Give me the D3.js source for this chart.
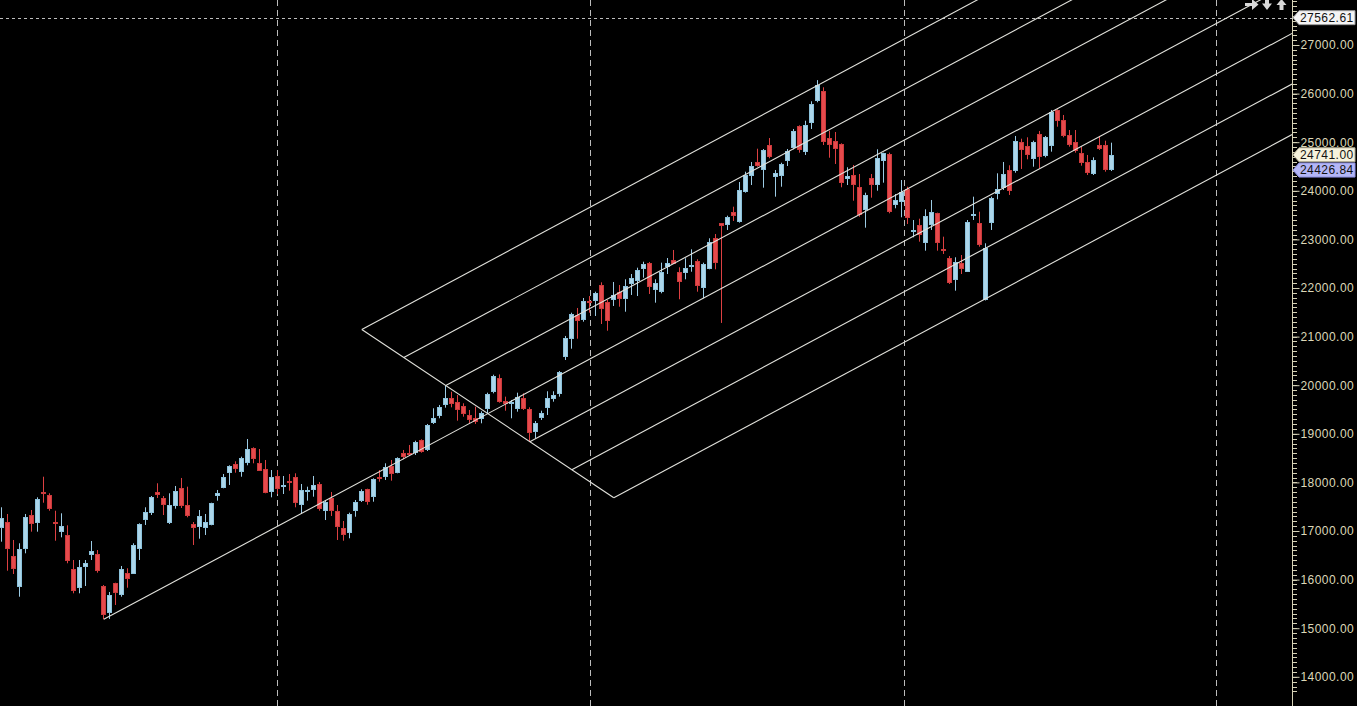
<!DOCTYPE html>
<html><head><meta charset="utf-8">
<script src="https://cdn.jsdelivr.net/npm/d3@7"></script>
<style>html,body{margin:0;padding:0;background:#000;overflow:hidden}</style>
</head><body><svg id="c" width="1357" height="706"></svg>
<script>
// ---- data ----
const firstWeek = "2022-02-14";
const lastWeek = "2025-09-01";
const open = [17056,17179,16486,15854,16624,17323,17171,17809,17741,17185,16980,16918,16218,15833,16259,16506,16527,15868,15319,15924,15683,16136,16115,16636,17226,17371,17803,17679,17165,17521,17885,17535,17144,17089,17068,17117,17720,17885,18200,18379,18214,18405,18708,18399,18276,17809,18132,17912,18035,18105,17529,17809,17844,17967,17417,17679,17417,17062,16965,17417,17624,17858,17693,18111,18105,18338,18187,18611,18611,18599,18873,18667,19229,19373,19593,19731,19648,19572,19387,19319,19298,19504,19854,20148,19675,19607,19510,19731,19510,19043,19325,19537,19710,19819,20587,20957,21438,21342,21739,21739,22062,21718,21753,21912,21774,22082,22150,22397,22508,21959,21924,22438,22570,22323,22315,22447,22549,22006,22397,23023,23331,23296,23564,23364,23982,24311,24593,24428,24942,24290,24305,24613,24875,25333,24805,25401,25848,26054,25080,25025,24963,24237,24325,24072,23605,24257,24119,24619,24757,23708,23776,24031,23159,23296,22932,23296,23537,22803,22611,22165,22508,22335,23488,23331,21753,23344,23934,24052,24428,24407,25004,24922,24661,25169,24722,24928,25663,25457,25148,25004,24784,24593,24346,24942,24942,24427];
const high = [17488,17350,16815,16747,17350,17432,17693,18117,17776,17417,17364,17117,16403,16403,16403,16794,16609,15889,15745,15936,16280,16233,16747,17159,17488,17720,17982,17720,17776,17926,18091,17912,17185,17432,17350,17582,17844,18173,18352,18434,18529,18893,18722,18687,18461,18255,18255,18132,18173,18187,17967,17912,18132,18008,17638,17803,17535,17206,17377,17638,17858,17870,18085,18255,18393,18461,18516,18667,18770,18858,18887,19202,19525,19593,19991,19866,19798,19628,19490,19558,19463,19846,20216,20222,19764,19696,19846,19833,19545,19263,19475,19875,19875,20292,21013,21492,21589,21794,21835,21924,22117,21753,22124,22062,22179,22288,22418,22541,22535,22179,22521,22617,22782,22426,22611,22796,22591,22521,23023,23111,23338,23488,23673,24181,24393,24593,24866,24860,25086,24428,24578,24860,25272,25348,25442,25842,26277,26130,25237,25210,24977,24484,24531,24346,23961,24346,24854,24784,24784,23934,24222,24084,23399,23426,23619,23811,23550,23056,22659,22632,22679,23399,23879,23570,22920,23879,24360,24593,24525,25128,25072,25101,25031,25231,25128,25663,25677,25560,25251,25251,24908,24737,24689,25128,25031,24990];
const low = [16780,16183,16115,15648,16541,16986,16986,17582,17417,16800,16870,16336,15718,15718,15868,16403,16142,15183,15190,15478,15648,15833,16115,16403,17124,17329,17679,17329,17144,17459,17473,17282,16712,16842,16918,17117,17624,17879,17947,18200,18117,18352,18393,18235,17776,17693,17761,17761,17829,17488,17350,17624,17706,17417,17226,17309,16815,16800,16850,17294,17597,17541,17603,18015,18050,18035,18187,18475,18543,18564,18611,18646,19202,19319,19537,19545,19270,19352,19216,19202,19216,19422,19833,19640,19475,19319,19455,19490,18837,18907,19284,19387,19661,19764,20519,20751,20957,21307,21492,21424,21259,21121,21630,21615,21512,21856,21835,22212,21877,21698,21891,22288,22494,21768,22179,22335,21924,21788,22385,22385,21281,23194,23379,23344,23961,24119,24496,24064,24669,23879,24084,24510,24854,24784,24737,25272,25821,24942,24681,24552,24072,24119,23796,23467,23241,23858,24002,24167,23537,23640,23455,23317,23043,22953,22768,23194,22768,22700,22082,21945,22288,22335,23399,22850,21743,23194,23825,24017,23914,24372,24449,24648,24496,24463,24689,24805,25319,25101,24908,24784,24517,24325,24325,24840,24393,24407];
const close = [17261,16636,16224,16624,17282,17138,17652,17768,17459,17150,17103,16389,15772,16259,16335,16589,16183,15272,15683,15731,16218,16012,16712,17144,17391,17700,17747,17541,17535,17823,17515,17315,17068,17303,17185,17570,17782,18105,18338,18282,18502,18687,18488,18241,17788,18111,17858,17947,17994,17582,17844,17850,17947,17447,17603,17405,17089,16924,17350,17597,17829,17603,18070,18064,18311,18173,18496,18516,18564,18831,18632,19181,19319,19552,19731,19613,19490,19408,19284,19243,19422,19819,20189,19661,19613,19661,19764,19510,19023,19228,19422,19731,19798,20265,20977,21465,21327,21733,21698,21897,21562,21327,21850,21768,22041,22206,22370,22494,22014,22097,22323,22508,22494,22130,22405,22473,22047,22494,22940,22521,23282,23467,23482,24017,24325,24510,24510,24840,24689,24366,24552,24819,25231,24840,25354,25786,26177,25010,24942,24854,24167,24305,24119,23502,23914,24119,24669,24772,23570,23811,23982,23434,23194,23091,23482,23564,22920,22768,22109,22541,22385,23352,23523,22885,22817,23846,24031,24346,24002,25019,24840,24737,25004,24702,25107,25628,25442,25134,24942,24825,24566,24360,24634,24860,24427,24741];
const priceTickLabels = [14000,15000,16000,17000,18000,19000,20000,21000,22000,23000,24000,25000,26000,27000];
const markerValues = [27562.61, 24741.00, 24426.84];
const yearStarts = ["2023-01-01","2024-01-01","2025-01-01","2026-01-01"];
const pitchDates = ["2022-06-13","2023-07-17","2023-10-23"];
const pitchPrices = [15183.4, 19991.85, 18837.85];
const pitchLevels = [-1.5,-1,-0.5,0,0.5,1,1.5];

// ---- setup ----
const W = 1357, H = 706, plotRight = 1292;
const parse = d3.utcParse("%Y-%m-%d");
const dates = d3.utcMonday.range(parse(firstWeek), d3.utcDay.offset(parse(lastWeek), 1));
const candles = dates.map((d, i) => ({d, o: open[i], h: high[i], l: low[i], c: close[i]}));

const x = d3.scaleUtc()
  .domain([parse("2022-02-14"), parse("2026-02-14")])
  .range([1.8, 1.8 + 1461 * 6 / 7]);
const y = d3.scaleLinear().domain([14000, 27000]).range([676.8, 45]);

const svg = d3.select("#c");
svg.append("rect").attr("width", W).attr("height", H).attr("fill", "#000");
svg.append("defs").append("clipPath").attr("id", "plot")
  .append("rect").attr("x", 0).attr("y", 0).attr("width", plotRight).attr("height", H);
const g = svg.append("g").attr("clip-path", "url(#plot)");

// year separators
g.selectAll("line.year").data(yearStarts).join("line")
  .attr("x1", d => Math.round(x(parse(d))) + 0.5).attr("x2", d => Math.round(x(parse(d))) + 0.5)
  .attr("y1", 0).attr("y2", H)
  .attr("stroke", "#bcbcbc").attr("stroke-width", 1).attr("stroke-dasharray", "6,4");

// horizontal marker dashed line (first marker)
g.append("line")
  .attr("x1", 0).attr("x2", plotRight)
  .attr("y1", Math.round(y(markerValues[0])) + 0.5).attr("y2", Math.round(y(markerValues[0])) + 0.5)
  .attr("stroke", "#bdbdbd").attr("stroke-dasharray", "3,3");

// candles
const upFill = "#acd6ea", upStroke = "#8cc2dc", dnFill = "#e64a4c", dnStroke = "#cc3a3c";
const cg = g.append("g");
candles.forEach(k => {
  const fx = Math.floor(x(k.d));
  const up = k.c >= k.o;
  cg.append("line")
    .attr("x1", fx + 0.5).attr("x2", fx + 0.5)
    .attr("y1", y(k.h)).attr("y2", y(k.l))
    .attr("stroke", up ? "#9ccbe4" : "#dd4042").attr("stroke-width", 1);
  const top = Math.round(y(Math.max(k.o, k.c)));
  const bot = Math.round(y(Math.min(k.o, k.c)));
  const hgt = Math.max(2, bot - top);
  cg.append("rect")
    .attr("x", fx - 1.5).attr("y", top + 0.5)
    .attr("width", 4).attr("height", hgt - 1)
    .attr("fill", up ? upFill : dnFill)
    .attr("stroke", up ? upStroke : dnStroke).attr("stroke-width", 1);
});

// pitchfork
const P = pitchDates.map((d, i) => [x(parse(d)), y(pitchPrices[i])]);
const M = [(P[1][0] + P[2][0]) / 2, (P[1][1] + P[2][1]) / 2];
const D = [P[2][0] - P[1][0], P[2][1] - P[1][1]];
const dir = [M[0] - P[0][0], M[1] - P[0][1]];
const pfColor = "#e2e2dc";
const pf = g.append("g").attr("stroke", pfColor).attr("stroke-width", 1.1).attr("fill", "none");
pitchLevels.forEach(k => {
  const s = k === 0 ? P[0] : [M[0] + k * D[0], M[1] + k * D[1]];
  const t = (plotRight - s[0]) / dir[0];
  pf.append("line").attr("x1", s[0]).attr("y1", s[1])
    .attr("x2", s[0] + t * dir[0]).attr("y2", s[1] + t * dir[1]);
});
const kMin = d3.min(pitchLevels), kMax = d3.max(pitchLevels);
pf.append("line")
  .attr("x1", M[0] + kMin * D[0]).attr("y1", M[1] + kMin * D[1])
  .attr("x2", M[0] + kMax * D[0]).attr("y2", M[1] + kMax * D[1]);

// right axis
const axisColor = "#d6d2b6";
svg.append("line").attr("x1", plotRight + 0.5).attr("x2", plotRight + 0.5)
  .attr("y1", 0).attr("y2", H).attr("stroke", axisColor);
const minor = d3.range(13700, 28000, 100);
svg.append("g").selectAll("line").data(minor).join("line")
  .attr("x1", plotRight).attr("x2", plotRight + 5)
  .attr("y1", d => Math.round(y(d)) + 0.5).attr("y2", d => Math.round(y(d)) + 0.5)
  .attr("stroke", axisColor);
const yAxis = d3.axisRight(y).tickValues(priceTickLabels).tickFormat(d3.format(".2f")).tickSize(7).tickPadding(1);
const ax = svg.append("g").attr("transform", `translate(${plotRight + 0.5},0)`).call(yAxis);
ax.select(".domain").remove();
ax.selectAll(".tick line").attr("stroke", axisColor);
ax.selectAll(".tick text").attr("fill", "#dcd8b8")
  .attr("font-family", "Liberation Sans, Arial, sans-serif").attr("font-size", 12)
  .attr("letter-spacing", "0.45px");

// value markers
const markerStyles = [
  {fill: "#f4f4f4", stroke: "#9a9a9a"},
  {fill: "#f6f2dc", stroke: "#b0aa90"},
  {fill: "#b4b6f6", stroke: "#8c8ee0"}
];
let prevY = -100;
markerValues.forEach((v, i) => {
  let yc = y(v);
  if (yc - prevY < 15) yc = prevY + 15;
  prevY = yc;
  const st = markerStyles[i];
  const l = plotRight + 1, r = 1355, hh = 7;
  svg.append("path")
    .attr("d", `M${l},${yc} L${l + 6},${yc - hh} L${r},${yc - hh} L${r},${yc + hh} L${l + 6},${yc + hh} Z`)
    .attr("fill", st.fill).attr("stroke", st.stroke).attr("stroke-width", 1);
  svg.append("text").attr("x", l + 7).attr("y", yc).attr("dy", "0.36em")
    .attr("fill", "#111").attr("font-family", "Liberation Sans, Arial, sans-serif")
    .attr("font-size", 12).attr("letter-spacing", "0.45px")
    .text(d3.format(".2f")(v));
});

// top-right navigation arrows
const icon = svg.append("g").attr("fill", "#d8d8d8");
icon.append("path").attr("d", "M1245,3 L1252,3 L1252,-1 L1258.5,4.5 L1252,10 L1252,6 L1245,6 Z");
icon.append("path").attr("d", "M1265,-1 L1269,-1 L1269,3.5 L1272,3.5 L1267,10 L1262,3.5 L1265,3.5 Z");
icon.append("path").attr("d", "M1279.5,10 L1283.5,10 L1283.5,5 L1286.5,5 L1281.5,-1 L1276.5,5 L1279.5,5 Z");
</script>
</body></html>
